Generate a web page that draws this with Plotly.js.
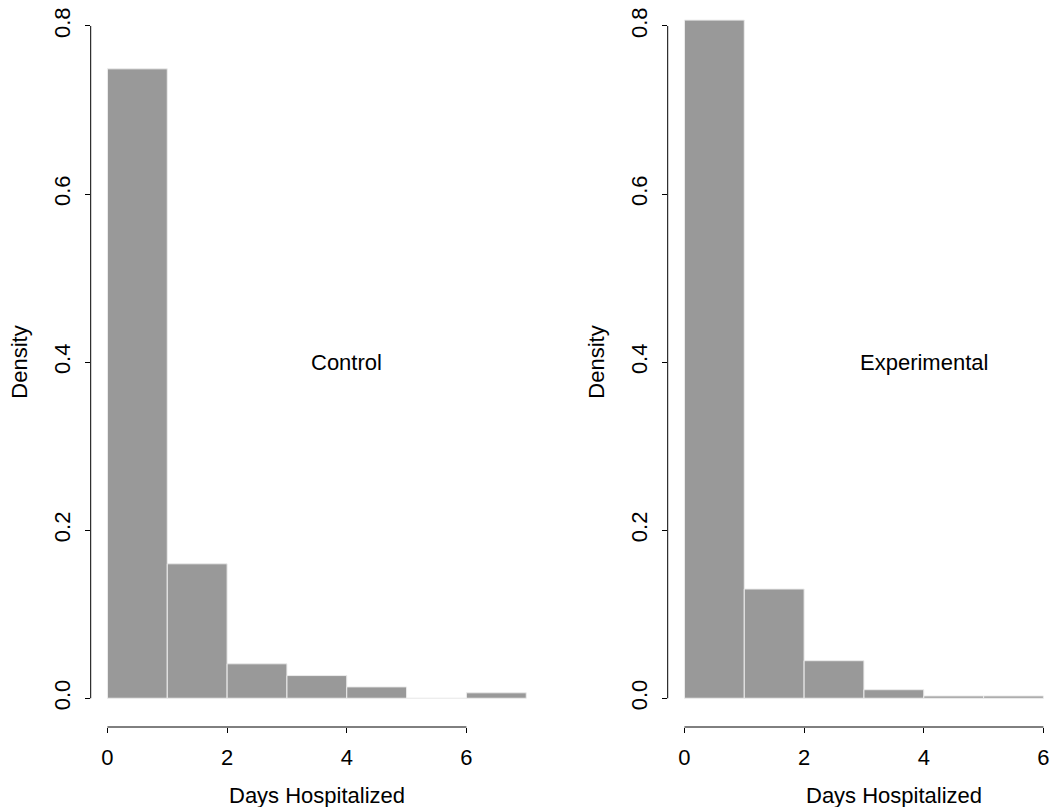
<!DOCTYPE html>
<html>
<head>
<meta charset="utf-8">
<script src="https://cdn.plot.ly/plotly-3.0.1.min.js"></script>
<style>html,body{margin:0;padding:0;background:#fff;}#chart{width:1050px;height:807px;}</style>
</head>
<body>
<div id="chart"></div>
<script>
// ---- data ----
const binEdgesControl = [0, 1, 2, 3, 4, 5, 6, 7];
const densityControl = [0.749, 0.160, 0.041, 0.027, 0.0135, 0, 0.0065];
const binEdgesExperimental = [0, 1, 2, 3, 4, 5, 6];
const densityExperimental = [0.807, 0.130, 0.0447, 0.0102, 0.0027, 0.0027];
const xTickVals = [0, 2, 4, 6];
const xTickText = ['0', '2', '4', '6'];
const yTickVals = [0, 0.2, 0.4, 0.6, 0.8];
const yTickText = ['0.0', '0.2', '0.4', '0.6', '0.8'];
const panelLabels = ['Control', 'Experimental'];
const labelPos = {x: 4, y: 0.4};
const xTitle = 'Days Hospitalized';
const yTitle = 'Density';

// ---- helpers ----
const W = 1050, H = 807;
const FONT = 'Liberation Sans, Arial, Helvetica, sans-serif';
function mids(edges) { const m = []; for (let i = 0; i < edges.length - 1; i++) m.push((edges[i] + edges[i + 1]) / 2); return m; }
function widths(edges) { const w = []; for (let i = 0; i < edges.length - 1; i++) w.push(edges[i + 1] - edges[i]); return w; }

function barTrace(edges, dens, xa, ya) {
  return {
    type: 'bar', x: mids(edges), y: dens, width: widths(edges),
    xaxis: xa, yaxis: ya,
    marker: {color: '#999999', line: {color: '#ececec', width: 1}},
    hoverinfo: 'skip', showlegend: false
  };
}

const traces = [
  barTrace(binEdgesControl, densityControl, 'x', 'y'),
  barTrace(binEdgesExperimental, densityExperimental, 'x2', 'y2')
];

// plot geometry (pixels)
const yDomain = [1 - 727 / H, 1];
const yRange = [-0.0342, 0.8309];
const pxPerUnit = 59.83;
const leftDom = [90.7 / W, 543 / W];
const rightDom = [667.7 / W, 1];
const xRangeL = [-0.28, 7.28];
const xRangeR = [-0.28, (W - 667.7) / pxPerUnit - 0.28];

function xAxis(domain, range, anchor) {
  return {
    domain: domain, range: range, anchor: anchor,
    showgrid: false, zeroline: false, showline: false,
    ticks: 'outside', ticklen: 5, tickwidth: 1, tickcolor: '#000',
    tickvals: xTickVals, ticktext: xTickText,
    tickfont: {family: FONT, size: 22, color: '#000'},
    ticklabelstandoff: 6, fixedrange: true
  };
}
function yAxis(range, anchor) {
  return {
    domain: yDomain, range: range, anchor: anchor,
    showgrid: false, zeroline: false, showline: false,
    ticks: 'outside', ticklen: 5, tickwidth: 1, tickcolor: '#000',
    tickvals: yTickVals, ticktext: yTickText, tickangle: -90,
    tickfont: {family: FONT, size: 22, color: '#000'},
    ticklabelstandoff: 6, fixedrange: true
  };
}

const shapes = [];
[['x', 'y'], ['x2', 'y2']].forEach(([xa, ya]) => {
  // y axis line spanning first..last tick
  shapes.push({type: 'line', xref: xa + ' domain', yref: ya, x0: 0, x1: 0,
    y0: yTickVals[0], y1: yTickVals[yTickVals.length - 1], line: {color: '#000', width: 1}});
  // x axis line spanning first..last tick
  shapes.push({type: 'line', xref: xa, yref: ya + ' domain', y0: 0, y1: 0,
    x0: xTickVals[0], x1: xTickVals[xTickVals.length - 1], line: {color: '#000', width: 1}});
});

const annFont = {family: FONT, size: 22, color: '#000'};
const annotations = [
  {xref: 'x', yref: 'y', x: labelPos.x, y: labelPos.y, text: panelLabels[0], showarrow: false, font: annFont, xanchor: 'center', yanchor: 'middle'},
  {xref: 'x2', yref: 'y2', x: labelPos.x, y: labelPos.y, text: panelLabels[1], showarrow: false, font: annFont, xanchor: 'center', yanchor: 'middle'},
  {xref: 'x', yref: 'paper', x: (xRangeL[0] + xRangeL[1]) / 2, y: 1 - 795 / H, text: xTitle, showarrow: false, font: annFont, xanchor: 'center', yanchor: 'middle'},
  {xref: 'x2', yref: 'paper', x: (xRangeL[0] + xRangeL[1]) / 2, y: 1 - 795 / H, text: xTitle, showarrow: false, font: annFont, xanchor: 'center', yanchor: 'middle'},
  {xref: 'paper', yref: 'paper', x: 19.2 / W, y: 1 - 362.5 / H, text: yTitle, textangle: -90, showarrow: false, font: annFont, xanchor: 'center', yanchor: 'middle'},
  {xref: 'paper', yref: 'paper', x: 596.2 / W, y: 1 - 362.5 / H, text: yTitle, textangle: -90, showarrow: false, font: annFont, xanchor: 'center', yanchor: 'middle'}
];

const layout = {
  width: W, height: H,
  margin: {l: 0, r: 0, t: 0, b: 0, pad: 0},
  paper_bgcolor: '#fff', plot_bgcolor: '#fff',
  bargap: 0, barmode: 'overlay',
  xaxis: xAxis(leftDom, xRangeL, 'y'),
  yaxis: yAxis(yRange, 'x'),
  xaxis2: xAxis(rightDom, xRangeR, 'y2'),
  yaxis2: yAxis(yRange, 'x2'),
  shapes: shapes, annotations: annotations,
  showlegend: false, hovermode: false
};

Plotly.newPlot('chart', traces, layout, {staticPlot: true, displayModeBar: false});
</script>
</body>
</html>
